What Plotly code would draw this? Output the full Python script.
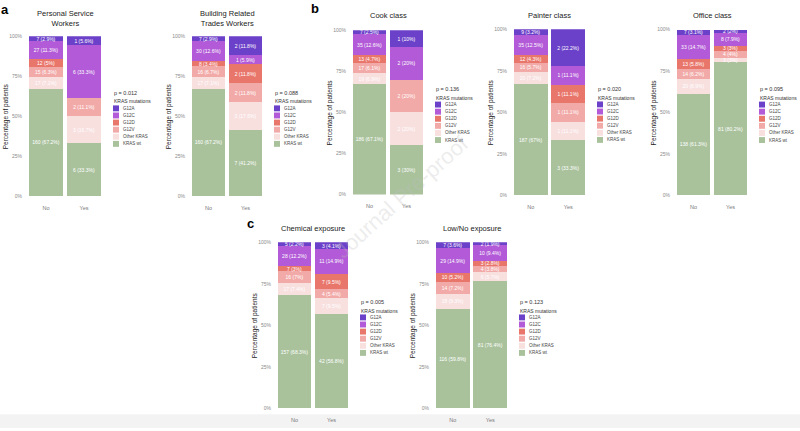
import plotly.graph_objects as go

# ---------------- data ----------------
categories = ["No", "Yes"]
mutation_types = ["KRAS wt", "Other KRAS", "G12V", "G12D", "G12C", "G12A"]  # bottom -> top
mutation_colors = ["#a9c29c", "#f8e0df", "#f2aaa8", "#e9766b", "#b25ad7", "#6c41c9"]

panel_titles = ["Personal Service<br>Workers", "Building Related<br>Trades Workers",
                "Cook class", "Painter class", "Office class",
                "Chemical exposure", "Low/No exposure"]
p_values = ["0.012", "0.088", "0.136", "0.020", "0.095", "0.005", "0.123"]

# counts per mutation type (order of mutation_types)
personal_no = [160, 17, 15, 12, 27, 7]
personal_yes = [6, 3, 2, 0, 6, 1]
building_no = [160, 17, 16, 8, 30, 7]
building_yes = [7, 3, 2, 2, 1, 2]
cook_no = [186, 19, 17, 13, 35, 7]
cook_yes = [3, 2, 2, 0, 2, 1]
painter_no = [187, 20, 16, 12, 35, 9]
painter_yes = [3, 1, 1, 1, 1, 2]
office_no = [138, 20, 14, 13, 33, 7]
office_yes = [81, 3, 4, 3, 8, 2]
chemical_no = [157, 17, 16, 7, 28, 5]
chemical_yes = [42, 7, 4, 7, 11, 3]
lowno_no = [116, 18, 14, 10, 29, 7]
lowno_yes = [81, 6, 4, 3, 10, 2]

panel_counts = [(personal_no, personal_yes), (building_no, building_yes),
                (cook_no, cook_yes), (painter_no, painter_yes), (office_no, office_yes),
                (chemical_no, chemical_yes), (lowno_no, lowno_yes)]

y_tick_vals = [0, 0.25, 0.5, 0.75, 1.0]
y_tick_text = ["0%", "25%", "50%", "75%", "100%"]

# ---------------- layout geometry (pixels) ----------------
W, H = 800, 431
def fx(px):
    return px / W
def fy(py):
    return 1 - py / H

# left, right, top, bottom of each plot area
panel_boxes = [(27, 103, 33.7, 196), (190, 264, 33.7, 196),
               (351, 425, 27.7, 194.3), (512, 587, 26.7, 195), (675, 749, 27, 195),
               (276, 350, 242.7, 411), (434, 509, 242.7, 411)]
title_y = [16, 16, 12.7, 12.7, 12.7, 228.3, 228.3]

FONT = "Liberation Sans, Arial, sans-serif"

def label(n, total):
    pct = round(100 * n / total, 1)
    s = f"{pct:.1f}".rstrip("0").rstrip(".")
    return f"{n} ({s}%)"

fig = go.Figure()
annotations = []
shapes = []

for i, ((no, yes), box, title, p) in enumerate(zip(panel_counts, panel_boxes, panel_titles, p_values)):
    ax = "" if i == 0 else str(i + 1)
    tn, ty = sum(no), sum(yes)
    for k, mut in enumerate(mutation_types):
        fig.add_trace(go.Bar(
            x=categories, y=[no[k] / tn, yes[k] / ty],
            text=[label(no[k], tn), label(yes[k], ty)],
            name=mut, marker=dict(color=mutation_colors[k], line=dict(width=0)),
            xaxis="x" + ax, yaxis="y" + ax, showlegend=False,
            textposition="inside", insidetextanchor="middle", textangle=0,
            textfont=dict(size=5, color="white", family=FONT),
            hoverinfo="name+text"))
    l, r, t, b = box
    fig.layout["xaxis" + ax] = dict(
        domain=[fx(l), fx(r)], anchor="y" + ax, type="category", range=[-0.5, 1.5],
        showgrid=False, zeroline=False, showline=False, ticks="outside", ticklen=6,
        tickcolor="rgba(0,0,0,0)", tickfont=dict(size=5.5, color="#7a7a7a", family=FONT))
    fig.layout["yaxis" + ax] = dict(
        domain=[fy(b), fy(t)], anchor="x" + ax, range=[0, 1],
        tickvals=y_tick_vals, ticktext=y_tick_text,
        showgrid=False, zeroline=False, showline=False, ticks="outside", ticklen=3,
        tickcolor="rgba(0,0,0,0)", tickfont=dict(size=5, color="#8a8a8a", family=FONT))

    # title
    annotations.append(dict(x=fx((l + r) / 2), y=fy(title_y[i]), xref="paper", yref="paper",
                            text=title, showarrow=False, xanchor="center", yanchor="middle",
                            font=dict(size=7.5, color="#222", family=FONT)))
    # y title
    annotations.append(dict(x=fx(l - 21), y=fy((t + b) / 2), xref="paper", yref="paper",
                            text="Percentage of patients", textangle=-90, showarrow=False,
                            xanchor="center", yanchor="middle",
                            font=dict(size=6.5, color="#222", family=FONT)))
    # legend
    cy = (t + b) / 2
    lx = r + 9
    annotations.append(dict(x=fx(lx), y=fy(cy - 24), xref="paper", yref="paper",
                            text=f"p = {p}", showarrow=False, xanchor="left", yanchor="middle",
                            font=dict(size=5.5, color="#333", family=FONT)))
    annotations.append(dict(x=fx(lx), y=fy(cy - 15), xref="paper", yref="paper",
                            text="KRAS mutations", showarrow=False, xanchor="left", yanchor="middle",
                            font=dict(size=5, color="#333", family=FONT)))
    for j, k in enumerate(reversed(range(len(mutation_types)))):
        sy = cy - 8 + j * 7.2
        shapes.append(dict(type="rect", xref="paper", yref="paper",
                           x0=fx(lx + 1), x1=fx(lx + 7), y0=fy(sy - 3), y1=fy(sy + 3),
                           fillcolor=mutation_colors[k], line=dict(width=0)))
        annotations.append(dict(x=fx(lx + 9), y=fy(sy), xref="paper", yref="paper",
                                text=mutation_types[k], showarrow=False, xanchor="left",
                                yanchor="middle", font=dict(size=4.5, color="#444", family=FONT)))

# panel letters
for letter, (px, py) in zip(["a", "b", "c"], [(5, 7), (315, 6), (251, 224)]):
    annotations.append(dict(x=fx(px), y=fy(py), xref="paper", yref="paper", text=f"<b>{letter}</b>",
                            showarrow=False, xanchor="center", yanchor="middle",
                            font=dict(size=13, color="#000", family=FONT)))

# watermark
annotations.append(dict(x=fx(402), y=fy(196), xref="paper", yref="paper", text="Journal Pre-proof",
                        textangle=-42, showarrow=False, xanchor="center", yanchor="middle",
                        font=dict(size=22, color="rgba(190,190,190,0.28)", family=FONT)))

# bottom page shadow band
shapes.append(dict(type="rect", xref="paper", yref="paper", x0=0, x1=1, y0=0, y1=fy(417),
                   fillcolor="#f3f3f3", line=dict(width=0), layer="below"))

fig.update_layout(
    width=W, height=H, margin=dict(l=0, r=0, t=0, b=0),
    paper_bgcolor="white", plot_bgcolor="white",
    barmode="stack", bargap=0.1, showlegend=False,
    uniformtext=dict(minsize=5, mode="show"),
    annotations=annotations, shapes=shapes,
    font=dict(family=FONT))

fig.write_html("out.html")
